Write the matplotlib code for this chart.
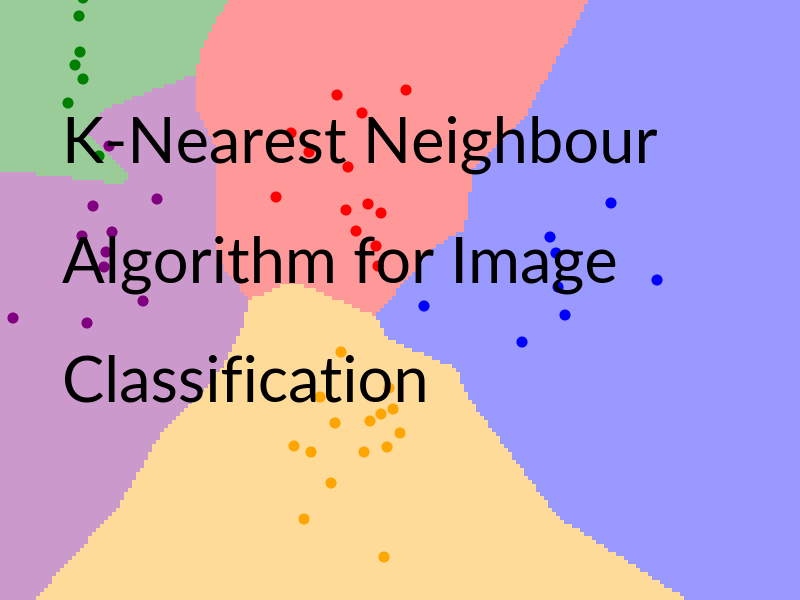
import numpy as np
import matplotlib
matplotlib.use("Agg")
import matplotlib.pyplot as plt
from matplotlib.colors import ListedColormap

# Class names and colours
classes = ["green", "red", "purple", "blue", "orange"]
point_colors = ["#008000", "#ff0000", "#800080", "#0000ff", "#ffa500"]
region_colors = ["#99cc99", "#ff9999", "#cc99cc", "#9999ff", "#ffdb99"]

# Sample points (x, y) per class
green_x = [83, 79, 80, 75, 83, 68, 99]
green_y = [-2, 16, 52, 65, 79, 103, 156]
red_x = [337, 406, 362, 291, 309, 348, 276, 346, 368, 381, 356, 376, 378]
red_y = [95, 90, 113, 133, 152, 167, 197, 210, 204, 213, 231, 246, 266]
purple_x = [109, 93, 157, 82, 112, 106, 104, 143, 13, 87]
purple_y = [146, 206, 199, 236, 232, 252, 267, 301, 318, 323]
blue_x = [611, 550, 556, 558, 657, 565, 522, 424]
blue_y = [203, 237, 253, 287, 280, 315, 342, 306]
orange_x = [341, 320, 389, 393, 381, 370, 335, 400, 294, 311, 364, 387, 331, 304, 384]
orange_y = [352, 397, 388, 409, 414, 421, 423, 433, 446, 452, 452, 447, 483, 519, 557]

title_lines = ["K-Nearest Neighbour", "Algorithm for Image", "Classification"]

xs = [green_x, red_x, purple_x, blue_x, orange_x]
ys = [green_y, red_y, purple_y, blue_y, orange_y]

X = np.concatenate([np.array(v, float) for v in xs])
Y = np.concatenate([np.array(v, float) for v in ys])
labels = np.concatenate([np.full(len(v), i) for i, v in enumerate(xs)])

# 1-nearest-neighbour decision regions on a grid
step = 4
gx = np.arange(0, 800 + step, step)
gy = np.arange(0, 600 + step, step)
cx = (gx[:-1] + gx[1:]) / 2
cy = (gy[:-1] + gy[1:]) / 2
MX, MY = np.meshgrid(cx, cy)
d = (MX[..., None] - X) ** 2 + (MY[..., None] - Y) ** 2
Z = labels[np.argmin(d, axis=-1)]

fig = plt.figure(figsize=(8, 6), dpi=100)
ax = fig.add_axes([0, 0, 1, 1])
ax.pcolormesh(gx, gy, Z, cmap=ListedColormap(region_colors), vmin=-0.5, vmax=4.5,
              shading="flat")
for i in range(len(classes)):
    ax.scatter(xs[i], ys[i], s=64, color=point_colors[i], edgecolors="none", zorder=3)

ax.set_xlim(0, 800)
ax.set_ylim(600, 0)
ax.axis("off")

baselines = [163, 283, 402]
texts = []
for line, yb in zip(title_lines, baselines):
    texts.append(ax.text(62, yb, line, fontsize=50, color="black", va="baseline",
                         ha="left", family=["Lato", "DejaVu Sans"], zorder=4))

# fit the first line to the reference width (about 596 px)
fig.canvas.draw()
r = fig.canvas.get_renderer()
w = texts[0].get_window_extent(r).width
fs = 50 * 596.0 / w
for t in texts:
    t.set_fontsize(fs)

fig.savefig("out.png", dpi=100)
